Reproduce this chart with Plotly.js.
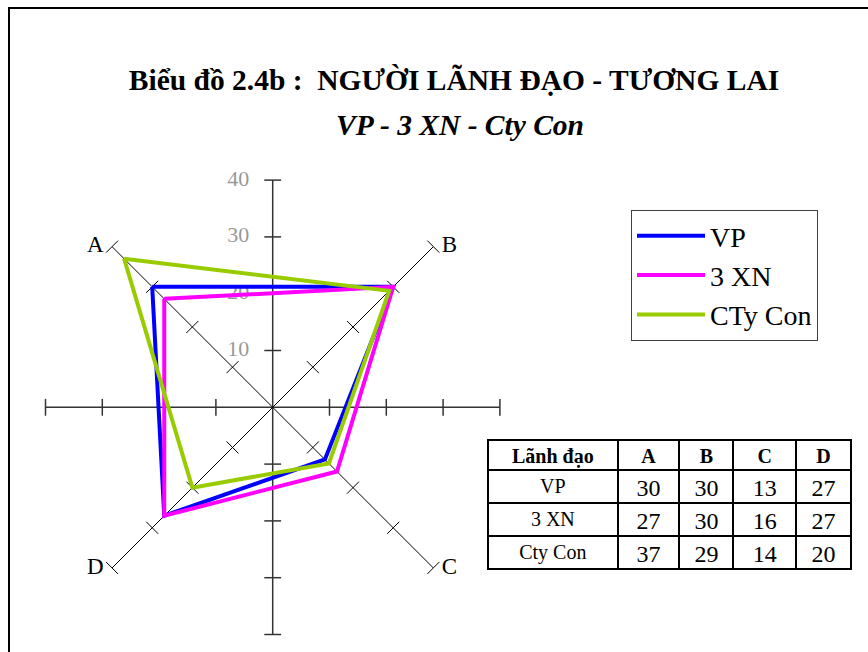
<!DOCTYPE html>
<html>
<head>
<meta charset="utf-8">
<script src="https://cdn.plot.ly/plotly-3.0.1.min.js"></script>
<style>html,body{margin:0;padding:0;background:#fff}#chart{width:868px;height:652px}</style>
</head>
<body>
<div id="chart"></div>
<script>
// ---- data ----
const categories = ['A', 'B', 'C', 'D'];
const seriesNames = ['VP', '3 XN', 'Cty Con'];
const legendNames = ['VP', '3 XN', 'CTy Con'];
const vp = [30, 30, 13, 27];
const xn = [27, 30, 16, 27];
const cty = [37, 29, 14, 20];
const axisTicks = [10, 20, 30, 40];
const tableHeader = ['Lãnh đạo', 'A', 'B', 'C', 'D'];

// ---- layout helpers ----
const FONT = 'Liberation Serif, Times New Roman, serif';
const catAngle = {A: 135, B: 45, C: 315, D: 225};
const colors = ['#0000FF', '#FF00FF', '#99CC00'];
const allSeries = [vp, xn, cty];

const traces = [];

// cross axes (horizontal / vertical) and diagonal category axes
const axisDefs = [
  {a: 0, b: 180, sym: 'line-ns', w: 1.5, c: '#333'},
  {a: 90, b: 270, sym: 'line-ew', w: 1.5, c: '#333'},
  {a: 135, b: 315, sym: 'line-ne', w: 1, c: '#000'},
  {a: 45, b: 225, sym: 'line-nw', w: 1, c: '#000'}
];
const rMax = axisTicks[axisTicks.length - 1];
axisDefs.forEach(d => {
  traces.push({
    type: 'scatterpolar', mode: 'lines', r: [rMax, 0, rMax],
    theta: [d.a, d.a, d.b], line: {color: d.c, width: d.w}, showlegend: false, hoverinfo: 'skip', cliponaxis: false
  });
  traces.push({
    type: 'scatterpolar', mode: 'markers',
    r: axisTicks.concat(axisTicks), theta: axisTicks.map(() => d.a).concat(axisTicks.map(() => d.b)),
    marker: {symbol: d.sym, size: 12, color: d.c, line: {color: d.c, width: d.w}},
    showlegend: false, hoverinfo: 'skip', cliponaxis: false
  });
});

// vertical axis tick labels
traces.push({
  type: 'scatterpolar', mode: 'markers+text', r: axisTicks, theta: axisTicks.map(() => 90),
  text: axisTicks.map(String), textposition: 'middle left',
  textfont: {family: FONT, size: 22, color: '#999999'},
  marker: {size: 36, color: 'rgba(0,0,0,0)'}, showlegend: false, hoverinfo: 'skip', cliponaxis: false
});

// category labels
traces.push({
  type: 'scatterpolar', mode: 'markers+text', r: categories.map(() => rMax),
  theta: categories.map(c => catAngle[c]), text: categories,
  textposition: categories.map(c => (catAngle[c] > 90 && catAngle[c] < 270) ? 'middle left' : 'middle right'),
  textfont: {family: FONT, size: 23, color: '#000'},
  marker: {size: 12, color: 'rgba(0,0,0,0)'}, showlegend: false, hoverinfo: 'skip', cliponaxis: false
});

// data series
allSeries.forEach((vals, i) => {
  traces.push({
    type: 'scatterpolar', mode: 'lines', name: legendNames[i],
    r: vals.concat([vals[0]]), theta: categories.concat([categories[0]]).map(c => catAngle[c]),
    line: {color: colors[i], width: 4}, cliponaxis: false
  });
});

// table
const colVals = [seriesNames].concat(categories.map((c, j) => allSeries.map(s => s[j])));
traces.push({
  type: 'table',
  domain: {x: [488/868, 852/868], y: [(652-570)/652, (652-440)/652]},
  columnwidth: [130, 62, 54, 63, 55],
  header: {
    values: tableHeader,
    align: 'center', height: 30,
    line: {color: '#000', width: 2}, fill: {color: '#fff'},
    font: {family: FONT, size: 20, color: '#000', weight: 'bold'}
  },
  cells: {
    values: colVals,
    align: 'center', height: 33,
    line: {color: '#000', width: 2}, fill: {color: '#fff'},
    font: {family: FONT, size: [20, 24, 24, 24, 24], color: '#000'}
  }
});

const cx = 272.7, cy = 407.3, R = 227.2;
const layout = {
  width: 868, height: 652,
  margin: {l: 0, r: 0, t: 0, b: 0},
  paper_bgcolor: '#fff', plot_bgcolor: 'rgba(0,0,0,0)',
  font: {family: FONT, color: '#000'},
  title: {
    text: 'Biểu đồ 2.4b :\u00a0 NGƯỜI LÃNH ĐẠO - TƯƠNG LAI',
    font: {family: FONT, size: 29.5, color: '#000', weight: 'bold'},
    x: 454/868, xanchor: 'center', y: 1 - 80/652, yanchor: 'middle'
  },
  annotations: [{
    text: '<b><i>VP - 3 XN - Cty Con</i></b>', xref: 'paper', yref: 'paper',
    x: 460/868, y: 1 - 125/652, xanchor: 'center', yanchor: 'middle', showarrow: false,
    font: {family: FONT, size: 29.5, color: '#000'}
  }],
  polar: {
    domain: {x: [(cx - R)/868, (cx + R)/868], y: [(652 - cy - R)/652, (652 - cy + R)/652]},
    bgcolor: 'rgba(0,0,0,0)',
    radialaxis: {range: [0, 40], visible: false, showgrid: false},
    angularaxis: {type: 'linear', thetaunit: 'degrees', rotation: 0, direction: 'counterclockwise',
                  visible: false, showgrid: false, showline: false}
  },
  showlegend: true,
  legend: {
    x: 631/868, y: 1 - 210/652, xanchor: 'left', yanchor: 'top',
    bordercolor: '#404040', borderwidth: 1, bgcolor: '#fff',
    itemwidth: 68,
    font: {family: FONT, size: 28, color: '#000'}
  },
  shapes: [{
    type: 'rect', xref: 'paper', yref: 'paper', x0: 9/868, x1: 1.1, y0: -0.1, y1: 1 - 8/652,
    line: {color: '#000', width: 2}
  }]
};

Plotly.newPlot('chart', traces, layout, {displayModeBar: false, staticPlot: true});
</script>
</body>
</html>
